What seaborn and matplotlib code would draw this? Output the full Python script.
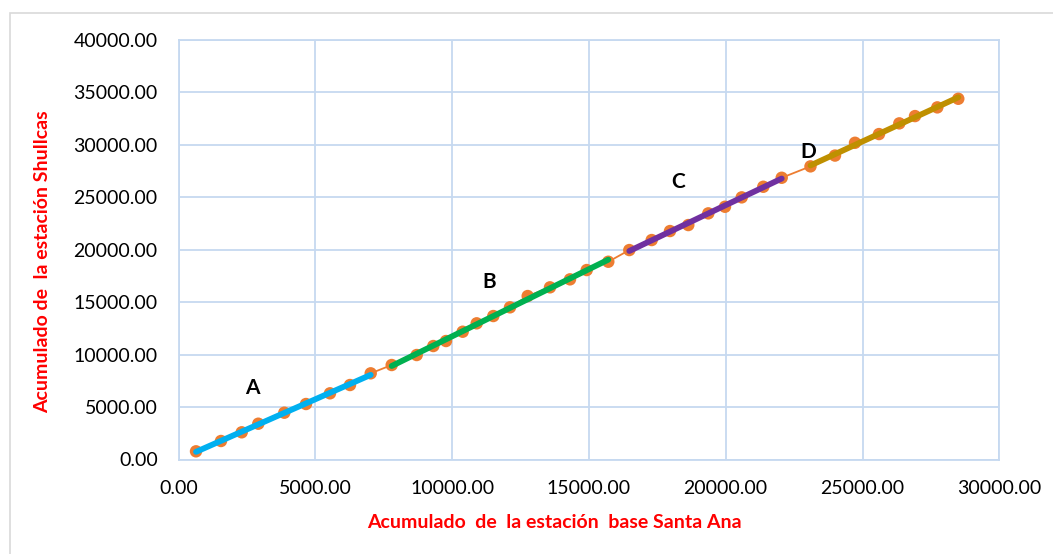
import numpy as np
import pandas as pd
import matplotlib
matplotlib.use("Agg")
import matplotlib.pyplot as plt
import seaborn as sns
from matplotlib.patches import Rectangle

# Accumulated precipitation: base station Santa Ana (x) vs Shullcas station (y)
santa_ana = [640, 1553, 2310, 2917, 3867, 4660, 5537, 6268, 7025,
             7792, 8706, 9313, 9777, 10387, 10899, 11506, 12116, 12763,
             13578, 14309, 14920, 15709,
             16477, 17295, 17964, 18633, 19364, 19974, 20585, 21374, 22047,
             23099, 23995, 24726, 25603, 26345, 26919, 27734, 28501]
shullcas = [780, 1764, 2593, 3413, 4461, 5291, 6311, 7102, 8217,
            9009, 9962, 10820, 11297, 12183, 12984, 13680, 14509, 15586,
            16416, 17178, 18065, 18856,
            19971, 20925, 21783, 22355, 23470, 24099, 24995, 26006, 26864,
            27951, 28980, 30200, 31030, 32050, 32746, 33575, 34395]
# Segment label for each point
tramo = (["A"] * 9) + (["B"] * 13) + (["C"] * 9) + (["D"] * 8)

segment_names = ["A", "B", "C", "D"]
segment_colors = ["#00B0F0", "#00B050", "#7030A0", "#BF9000"]
label_x = [2686, 11349, 18257, 23008]
label_y = [6816, 16921, 26454, 29314]

x_ticks = [0, 5000, 10000, 15000, 20000, 25000, 30000]
y_ticks = [0, 5000, 10000, 15000, 20000, 25000, 30000, 35000, 40000]

df = pd.DataFrame({"x": santa_ana, "y": shullcas, "tramo": tramo})

sns.set_style("white")
plt.rcParams["font.family"] = ["Lato", "DejaVu Sans"]

fig = plt.figure(figsize=(10.53, 5.54), dpi=100)
ax = fig.add_axes([178.5 / 1053, 1 - 459.5 / 554,
                   (999.3 - 178.5) / 1053, (459.5 - 40) / 554])

# chart frame
fig.patches.append(Rectangle((10 / 1053, -0.05), 1.1, 1 - 13 / 554 + 0.05,
                             transform=fig.transFigure, fill=False,
                             edgecolor="#D9D9D9", linewidth=1.2, zorder=0))

grid_c = "#C6D9F0"
ax.set_xlim(0, 30000)
ax.set_ylim(0, 40000)
ax.set_xticks(x_ticks)
ax.set_yticks(y_ticks)
ax.grid(True, color=grid_c, linewidth=1.3)
ax.set_axisbelow(True)
for sp in ax.spines.values():
    sp.set_color(grid_c)
    sp.set_linewidth(1.3)

# thin connecting line through all points
sns.lineplot(data=df, x="x", y="y", sort=False, color="#ED7D31",
             linewidth=1.3, ax=ax, zorder=2)
sns.scatterplot(data=df, x="x", y="y", color="#ED7D31", s=80,
                edgecolor="none", ax=ax, zorder=3)

# fitted straight line for each segment
for name, col in zip(segment_names, segment_colors):
    sub = df[df["tramo"] == name]
    m, b = np.polyfit(sub["x"], sub["y"], 1)
    xs = np.array([sub["x"].min(), sub["x"].max()])
    sns.lineplot(x=xs, y=m * xs + b, color=col, linewidth=4.2, ax=ax,
                 zorder=4)

for name, lx, ly in zip(segment_names, label_x, label_y):
    ax.text(lx, ly, name, fontsize=15, fontweight="bold", color="black",
            ha="center", va="center")

fmt = lambda v: f"{v:.2f}"
ax.set_xticklabels([fmt(v) for v in x_ticks])
ax.set_yticklabels([fmt(v) for v in y_ticks])
ax.tick_params(axis="both", length=0, labelsize=14, colors="black")
ax.tick_params(axis="x", pad=15)
ax.tick_params(axis="y", pad=15)
ax.set_xlabel("")
ax.set_ylabel("")

fig.text(554 / 1053, 1 - 522 / 554, "Acumulado  de  la estación  base Santa Ana",
         color="#FF0000", fontsize=14, fontweight="bold", ha="center",
         va="center")
fig.text(43 / 1053, 1 - 262 / 554, "Acumulado de  la estación Shullcas",
         color="#FF0000", fontsize=14, fontweight="bold", ha="center",
         va="center", rotation=90)

fig.savefig("out.png", dpi=100, facecolor="white")
